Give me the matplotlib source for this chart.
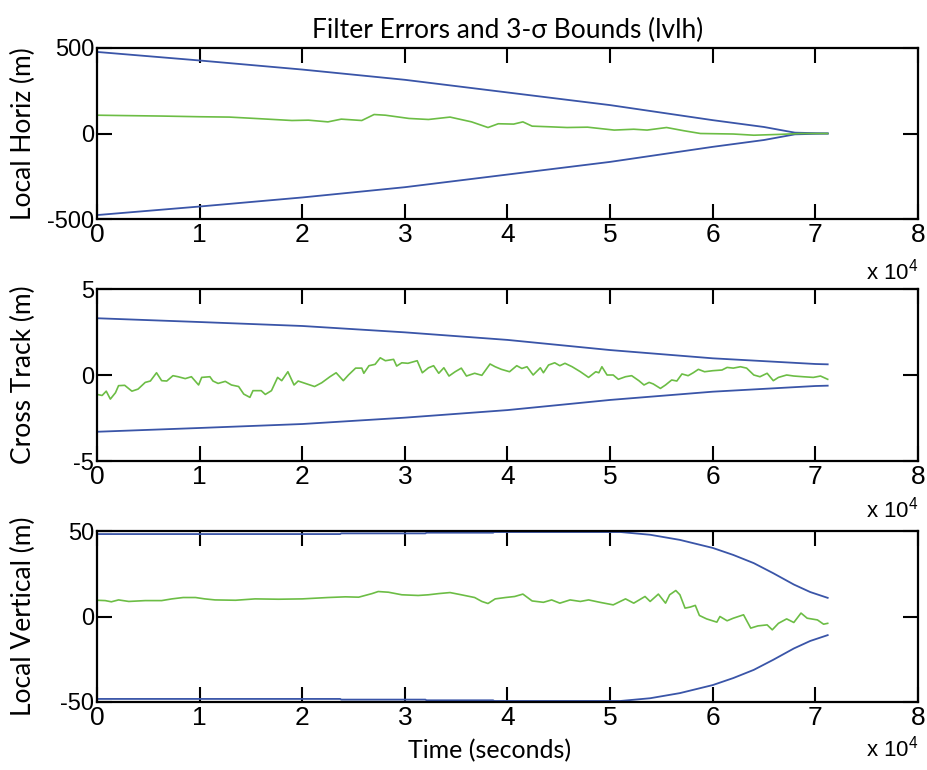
import matplotlib
matplotlib.use('Agg')
import matplotlib.pyplot as plt
import numpy as np

plt.rcParams['font.family'] = ['Liberation Sans', 'DejaVu Sans']
plt.rcParams['mathtext.default'] = 'regular'

# time in units of 1e4 seconds
# Local Horiz: 3-sigma bound and filter error
t_sig_h = [0, 1, 2, 3, 4, 5, 6, 6.5, 6.8, 7.12]
sig_h = [477, 427, 374, 314, 240, 166, 78, 38, 5, 0]
t_err_h = [0, 0.24, 0.63, 1.0, 1.29, 1.54, 1.9, 2.06, 2.25, 2.38, 2.58, 2.7, 2.81,
           3.04, 3.23, 3.44, 3.65, 3.81, 3.91, 4.06, 4.15, 4.24, 4.42, 4.58, 4.78,
           5.04, 5.23, 5.36, 5.55, 5.72, 5.88, 6.2, 6.4, 6.66, 6.85, 7.12]
err_h = [107, 105, 102, 98, 96, 88, 76, 78, 68, 84, 76, 111, 107,
         88, 82, 96, 68, 35, 57, 55, 68, 43, 39, 35, 37,
         20, 25, 20, 35, 16, 0, -3, -10, -5, 0, 0]

# Cross Track
t_sig_c = [0, 1, 2, 3, 4, 5, 6, 7, 7.12]
sig_c = [3.3, 3.08, 2.85, 2.48, 2.04, 1.45, 0.97, 0.64, 0.62]
t_err_c = [0.0, 0.05, 0.09, 0.13, 0.18, 0.21, 0.27, 0.34, 0.40, 0.47, 0.52, 0.58,
           0.63, 0.68, 0.74, 0.79, 0.86, 0.92, 0.99, 1.02, 1.10, 1.13, 1.18, 1.25,
           1.31, 1.38, 1.43, 1.49, 1.52, 1.60, 1.64, 1.70, 1.76, 1.80, 1.86, 1.92,
           1.96, 2.03, 2.12, 2.19, 2.27, 2.33, 2.40, 2.45, 2.52, 2.58, 2.60, 2.65,
           2.71, 2.76, 2.81, 2.89, 2.92, 2.97, 3.03, 3.12, 3.17, 3.23, 3.28, 3.33,
           3.38, 3.43, 3.49, 3.55, 3.60, 3.68, 3.75, 3.83, 3.88, 3.94, 4.02, 4.09,
           4.14, 4.19, 4.25, 4.32, 4.35, 4.40, 4.46, 4.51, 4.56, 4.63, 4.71, 4.79,
           4.86, 4.89, 4.92, 4.97, 5.03, 5.08, 5.15, 5.21, 5.28, 5.33, 5.38, 5.42,
           5.49, 5.54, 5.60, 5.65, 5.70, 5.76, 5.81, 5.86, 5.92, 6.00, 6.09, 6.14,
           6.20, 6.27, 6.33, 6.40, 6.46, 6.53, 6.59, 6.64, 6.72, 6.79, 6.88, 6.98,
           7.05, 7.12]
err_c = [-1.13, -1.19, -0.94, -1.40, -1.03, -0.62, -0.60, -0.94, -0.82, -0.43, -0.35, 0.13,
         -0.33, -0.35, -0.04, -0.10, -0.21, -0.10, -0.58, -0.14, -0.10, -0.35, -0.49, -0.37,
         -0.58, -0.67, -1.11, -1.30, -0.91, -0.91, -1.13, -0.91, -0.14, -0.33, 0.19, -0.58,
         -0.35, -0.49, -0.67, -0.45, -0.10, 0.13, -0.33, 0.00, 0.40, 0.40, 0.10, 0.54,
         0.62, 1.00, 0.83, 0.91, 0.52, 0.71, 0.68, 0.83, 0.13, 0.42, 0.54, 0.10,
         0.42, -0.06, 0.19, 0.40, -0.06, 0.10, -0.02, 0.64, 0.48, 0.33, 0.19, 0.54,
         0.38, 0.48, 0.00, 0.42, 0.13, 0.58, 0.71, 0.54, 0.68, 0.48, 0.19, -0.14,
         0.19, 0.13, 0.48, 0.00, 0.00, -0.25, -0.10, -0.04, -0.33, -0.58, -0.43, -0.52,
         -0.78, -0.58, -0.29, -0.35, 0.06, -0.04, 0.13, 0.33, 0.19, 0.25, 0.29, 0.44,
         0.40, 0.48, 0.40, 0.00, -0.10, 0.10, -0.33, -0.14, 0.00, -0.06, -0.10, -0.14,
         -0.06, -0.25]

# Local Vertical
t_sig_v = [0, 2.37, 2.38, 3.2, 3.21, 3.86, 3.87, 5.1, 5.39, 5.68, 6.0, 6.2, 6.4,
           6.59, 6.79, 6.95, 7.12]
sig_v = [48.2, 48.2, 48.6, 48.6, 49.0, 49.0, 49.4, 49.4, 47.8, 44.8, 40.1, 36.0, 31.2,
         25.3, 18.7, 14.3, 10.9]
t_err_v = [0, 0.08, 0.14, 0.21, 0.31, 0.47, 0.63, 0.73, 0.84, 0.96, 1.05, 1.15, 1.35,
           1.54, 1.77, 2.0, 2.25, 2.42, 2.55, 2.68, 2.74, 2.84, 2.97, 3.13, 3.23,
           3.33, 3.44, 3.55, 3.68, 3.75, 3.81, 3.88, 3.98, 4.07, 4.15, 4.24, 4.35,
           4.43, 4.51, 4.61, 4.71, 4.79, 4.90, 5.03, 5.15, 5.23, 5.34, 5.39, 5.47,
           5.54, 5.58, 5.64, 5.68, 5.73, 5.78, 5.83, 5.87, 5.94, 6.04, 6.07, 6.14,
           6.20, 6.30, 6.37, 6.44, 6.53, 6.58, 6.64, 6.72, 6.79, 6.86, 6.92, 7.02,
           7.08, 7.12]
err_v = [9.5, 9.3, 8.6, 9.7, 8.8, 9.3, 9.3, 10.3, 11.1, 11.1, 10.3, 9.7, 9.5,
         10.3, 10.1, 10.3, 11.1, 11.5, 11.3, 13.4, 14.6, 14.2, 12.7, 12.3, 12.7,
         13.4, 14.0, 12.7, 11.1, 8.8, 7.6, 10.3, 11.1, 11.7, 13.1, 9.1, 8.3,
         9.7, 7.8, 9.7, 8.8, 9.7, 8.3, 6.8, 10.3, 7.8, 11.7, 8.8, 13.1,
         7.8, 12.7, 15.2, 12.7, 4.9, 5.5, 6.5, 0.6, -1.4, -3.3, 0.0, -2.5,
         -1.0, 1.0, -6.8, -5.5, -4.9, -7.8, -4.0, -1.4, -3.5, 2.0, -1.0, -2.0,
         -4.5, -4.0]

ylabels = ['Local Horiz (m)', 'Cross Track (m)', 'Local Vertical (m)']
ylims = [500, 5, 50]
blue = '#3a55a8'
green = '#6cbd45'

panels = [(t_sig_h, sig_h, t_err_h, err_h),
          (t_sig_c, sig_c, t_err_c, err_c),
          (t_sig_v, sig_v, t_err_v, err_v)]
# axes boxes in pixels (top, bottom)
boxes = [(48, 219), (289, 461), (531, 702)]
mult_y = [-0.31, -0.285, -0.27]
calibri = ['Lato', 'DejaVu Sans']

W, H = 928, 770
fig = plt.figure(figsize=(W / 100, H / 100), dpi=100)

for i, (ts, s, te, e) in enumerate(panels):
    top, bot = boxes[i]
    ax = fig.add_axes([97 / W, 1 - bot / H, (918 - 97) / W, (bot - top) / H])
    ts = np.array(ts) * 1e4
    s = np.array(s)
    ax.plot(ts, s, color=blue, lw=1.3)
    ax.plot(ts, -s, color=blue, lw=1.3)
    ax.plot(np.array(te) * 1e4, e, color=green, lw=1.2)
    lim = ylims[i]
    ax.set_xlim(0, 8e4)
    ax.set_ylim(-lim, lim)
    ax.set_xticks(np.arange(0, 9) * 1e4)
    ax.set_xticklabels([str(k) for k in range(9)], fontsize=19)
    ax.set_yticks([-lim, 0, lim])
    ax.set_yticklabels([str(-lim), '0', str(lim)], fontsize=17)
    ax.tick_params(direction='in', length=11, width=1.5, top=True, right=True)
    ax.tick_params(axis='x', pad=3)
    ax.tick_params(axis='y', pad=2)
    for sp in ax.spines.values():
        sp.set_linewidth(1.6)
    ax.set_ylabel(ylabels[i], family=calibri, fontsize=19)
    ax.yaxis.set_label_coords(-0.074, 0.5)
    ax.text(1.0, mult_y[i], 'x 10$^4$', transform=ax.transAxes, ha='right',
            va='center', fontsize=16)
    if i == 0:
        ax.set_title('Filter Errors and 3-\u03c3 Bounds (lvlh)',
                     family=calibri, fontsize=19, pad=7)
    if i == 2:
        ax.set_xlabel('Time (seconds)', family=calibri, fontsize=18)
        ax.xaxis.set_label_coords(0.478, -0.215)

fig.savefig('out.png', dpi=100)
